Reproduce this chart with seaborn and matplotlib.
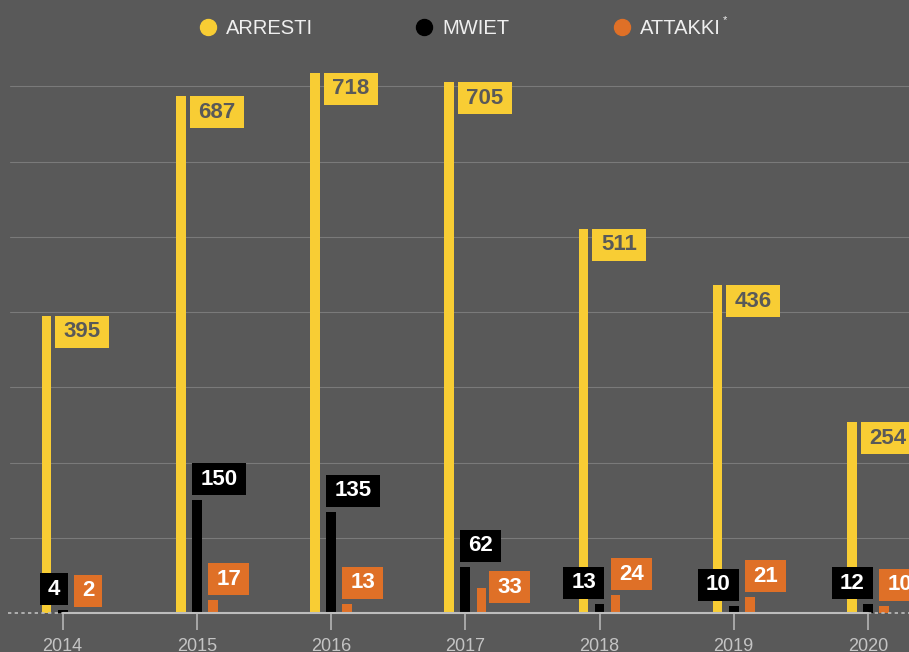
import matplotlib.pyplot as plt
import seaborn as sns
import pandas as pd
from matplotlib.patches import Rectangle

# Data
years = ['2014', '2015', '2016', '2017', '2018', '2019', '2020']
series = ['ARRESTI', 'MWIET', 'ATTAKKI']
arresti = [395, 687, 718, 705, 511, 436, 254]
mwiet = [4, 150, 135, 62, 13, 10, 12]
attakki = [2, 17, 13, 33, 24, 21, 10]

colors = ['#f8cd34', '#000000', '#df7027']
label_text_colors = ['#595959', '#ffffff', '#ffffff']
bg = '#595959'

df = pd.DataFrame({
    'year': years * 3,
    'series': [s for s in series for _ in years],
    'value': arresti + mwiet + attakki,
})

sns.set_theme(style='white', rc={'axes.facecolor': bg, 'figure.facecolor': bg})
plt.rcParams['font.family'] = ['Liberation Sans', 'DejaVu Sans']

W, H = 909, 652
fig = plt.figure(figsize=(W / 100, H / 100), dpi=100)
ax = fig.add_axes([0, 38.7 / H, 1, 613.3 / H])

sns.barplot(data=df, x='year', y='value', hue='series', hue_order=series,
            palette=colors, width=0.36, gap=0.4, linewidth=0, saturation=1,
            legend=False, ax=ax, zorder=2)

ax.set_xlim(-0.467, 6.306)
ax.set_ylim(0, 814.5)
ax.set_xlabel('')
ax.set_ylabel('')
ax.set_yticks([])
for s in ax.spines.values():
    s.set_visible(False)
ax.tick_params(axis='x', bottom=True, length=12, width=1.1, color='#bdbdbd',
               labelcolor='#c4c4c4', labelsize=13, pad=6)

# gridlines
for v in range(100, 800, 100):
    ax.axhline(v, xmin=10 / W, color='#7a7a7a', lw=0.8, zorder=0)

# baseline: solid between first and last year, dashed outside
xl = ax.get_xlim()
ax.plot([0, len(years) - 1], [0, 0], color='#bdbdbd', lw=1.5, clip_on=False, zorder=4)
ax.plot([xl[0] + 8 / 134.2, 0], [0, 0], color='#bdbdbd', lw=1.2, ls=(0, (2, 2)), clip_on=False, zorder=4)
ax.plot([len(years) - 1, xl[1]], [0, 0], color='#bdbdbd', lw=1.2, ls=(0, (2, 2)), clip_on=False, zorder=4)

# value labels in boxes (pixel geometry)
to_px = ax.transData.transform
to_data = ax.transData.inverted().transform
BOX_H = 32


def box_w(txt):
    return 13 * len(txt) + 15


def add_box(left, bottom, txt, fc, tc):
    w = box_w(txt)
    x0, y0 = to_data((left, bottom))
    x1, y1 = to_data((left + w, bottom + BOX_H))
    ax.add_patch(Rectangle((x0, y0), x1 - x0, y1 - y0, fc=fc, ec='none',
                           clip_on=False, zorder=5))
    ax.text((x0 + x1) / 2, (y0 + y1) / 2, txt, color=tc, ha='center', va='center',
            fontsize=16, fontweight='bold', zorder=6, clip_on=False)
    return (left, bottom, left + w, bottom + BOX_H)


def overlaps(a, b):
    return not (a[2] <= b[0] or b[2] <= a[0] or a[3] <= b[1] or b[3] <= a[1])


base_px = to_px((0, 0))[1]
containers = [sorted(c.patches, key=lambda p: p.get_x()) for c in ax.containers[:3]]
values = [arresti, mwiet, attakki]

for i in range(len(years)):
    geo = []
    for j in range(3):
        b = containers[j][i]
        l, _ = to_px((b.get_x(), 0))
        r, t = to_px((b.get_x() + b.get_width(), b.get_height()))
        geo.append((l, r, t))

    # arresti: right of bar, top aligned
    l, r, t = geo[0]
    txt = str(values[0][i])
    add_box(r + 4, t - BOX_H, txt, colors[0], label_text_colors[0])

    # mwiet: above bar, shifted left if small
    l, r, t = geo[1]
    txt = str(values[1][i])
    left = l if values[1][i] >= 20 else r - box_w(txt)
    black_box = add_box(left, t + 5, txt, colors[1], label_text_colors[1])

    # attakki: above bar, or to the right if it would collide
    l, r, t = geo[2]
    txt = str(values[2][i])
    cand = (l, t + 5, l + box_w(txt), t + 5 + BOX_H)
    if overlaps(cand, black_box):
        add_box(r + 3, base_px + 10, txt, colors[2], label_text_colors[2])
    else:
        add_box(l, t + 5, txt, colors[2], label_text_colors[2])

# legend at top
leg_y = 1 - 27 / H
dots_x = [208, 424, 622]
renderer = fig.canvas.get_renderer()
last = None
for k, name in enumerate(series):
    fig.lines.append(plt.Line2D([dots_x[k] / W], [leg_y], marker='o', ms=11.5,
                                color=colors[k], ls='none', transform=fig.transFigure))
    last = fig.text((dots_x[k] + 18) / W, 1 - 34.5 / H, name, color='#efefef',
                    fontsize=14.5, va='baseline', ha='left')
ext = last.get_window_extent(renderer)
fig.text((ext.x1 + 2) / W, 1 - 20 / H, '*', color='#efefef', fontsize=8,
         ha='left', va='center')

fig.savefig('out.png', dpi=100, facecolor=bg)
